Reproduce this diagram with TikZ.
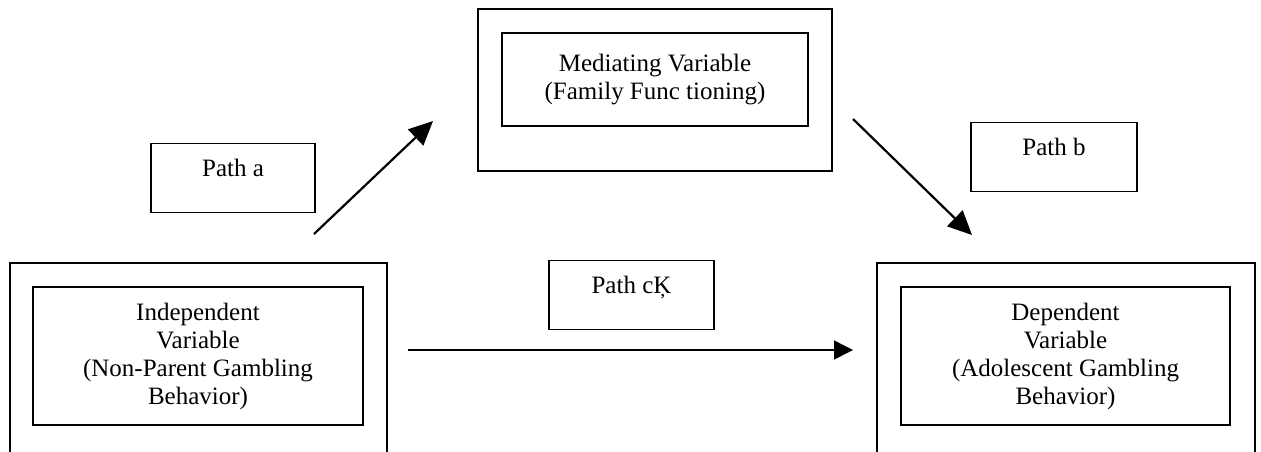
\documentclass[tikz,border=0pt]{standalone}
\usepackage{fontspec}
\setmainfont{Liberation Serif}
\usetikzlibrary{arrows.meta, positioning}
\tikzset{
  outerbox/.style={rectangle, draw=black, line width=0.65pt, inner sep=0pt},
  innerbox/.style={rectangle, draw=black, line width=0.65pt, inner sep=0pt, align=center},
  pathbox/.style={rectangle, draw=black, line width=0.65pt, inner xsep=0pt, inner ysep=0pt, minimum width=82pt, text height=16.5pt, text depth=18pt}
}

\begin{document}
\begin{tikzpicture}[
  x=0.5pt, y=-0.5pt,
  every node/.style={font=\fontsize{12.5}{14}\selectfont},
  diag/.style={-{Triangle[length=12pt,width=11pt]}, line width=1.1pt},
  straight/.style={-{Triangle[length=9.5pt,width=9.5pt]}, line width=0.7pt}
]
\clip (0,0) rectangle (1261,451);

% Mediator
\node[outerbox, minimum width=177pt, minimum height=81pt] (MedOut) at (655,90) {};
\node[innerbox, minimum width=153pt, minimum height=46.5pt] (Med) at (655,79.5)
  {Mediating Variable\\(Family Func tioning)};

% Independent variable
\node[outerbox, minimum width=188.5pt, minimum height=110pt] (IndOut) at (198.5,373) {};
\node[innerbox, minimum width=165pt, minimum height=69pt] (Ind) at (198,356)
  {Independent\\Variable\\(Non-Parent Gambling\\Behavior)};

% Dependent variable
\node[outerbox, minimum width=189pt, minimum height=110pt] (DepOut) at (1066,373) {};
\node[innerbox, minimum width=164.5pt, minimum height=69pt] (Dep) at (1065.5,356)
  {Dependent\\Variable\\(Adolescent Gambling\\Behavior)};

% Path labels
\node[pathbox] (PathA) at (233,178) {Path a};
\node[pathbox, minimum width=83pt] (PathB) at (1054,157) {Path b};
\node[pathbox, minimum width=82.5pt] (PathC) at (631.5,295) {Path cĶ};

% Arrows
\coordinate (a0) at (314,234);
\coordinate (a1) at (433,121);
\coordinate (b0) at (853,119);
\coordinate (b1) at (972,235);
\coordinate (c0) at (408,350);
\coordinate (c1) at (853,350);
\draw[diag] (a0) -- (a1);
\draw[diag] (b0) -- (b1);
\draw[straight] (c0) -- (c1);

\end{tikzpicture}
\end{document}
